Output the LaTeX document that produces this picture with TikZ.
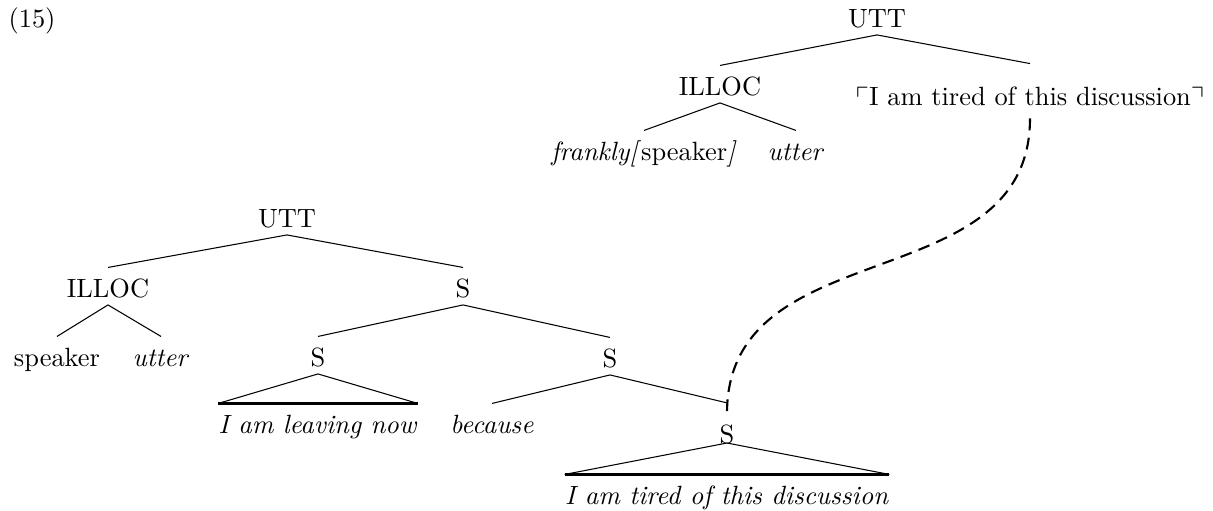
\documentclass[tikz,border=0pt]{standalone}
\usepackage{amssymb}
\usetikzlibrary{calc}
\tikzset{
  lbl/.style={anchor=base, inner sep=0pt, text height=11pt, text depth=2.8pt},
  edge/.style={line width=0.4pt},
  tribase/.style={line width=0.8pt},
  link/.style={line width=0.8pt, dash pattern=on 4.5pt off 2.8pt}
}
\begin{document}
\begin{tikzpicture}[x=0.3788pt,y=-0.3788pt]
\useasboundingbox (0,0) rectangle (1213,510);
% labels
\node[lbl] (n15) at (32,27) {(15)};
\node[lbl] (uttA) at (877,27) {UTT};
\node[lbl] (illocA) at (720,95) {ILLOC};
\node[lbl] (frank) at (644,160) {\textit{frankly[}speaker\textit{]}};
\node[lbl] (utterA) at (796,160) {\textit{utter}};
\node[lbl, text height=15.5pt, text depth=4.9pt] (quote) at (1030,105) {$\ulcorner$I am tired of this discussion$\urcorner$};
\node[lbl] (uttB) at (287,227) {UTT};
\node[lbl] (illocB) at (108,297) {ILLOC};
\node[lbl] (sR) at (463,297) {S};
\node[lbl] (spk) at (57,366) {speaker};
\node[lbl] (utterB) at (161,366) {\textit{utter}};
\node[lbl] (sL) at (318,366) {S};
\node[lbl] (sM) at (610,367) {S};
\node[lbl] (leave) at (318,433) {\textit{I am leaving now}};
\node[lbl] (because) at (492,433) {\textit{because}};
\node[lbl] (sB) at (727,443) {S};
\node[lbl] (tired) at (727,504) {\textit{I am tired of this discussion}};
% upper tree
\draw[edge] (illocA.north) -- (uttA.south) -- (quote.north);
\draw[edge] (frank.north) -- (illocA.south) -- (utterA.north);
% lower tree
\draw[edge] (illocB.north) -- (uttB.south) -- (sR.north);
\draw[edge] (spk.north) -- (illocB.south) -- (utterB.north);
\draw[edge] (sL.north) -- (sR.south) -- (sM.north);
\draw[edge] (because.north) -- (sM.south) -- ([yshift=4pt]sB.north);
% triangles
\draw[edge] (leave.north west) -- (sL.south) -- (leave.north east);
\draw[tribase] (leave.north west) -- (leave.north east);
\draw[edge] (tired.north west) -- (sB.base) -- (tired.north east);
\draw[tribase] (tired.north west) -- (tired.north east);
% dashed link
\draw[link] (quote.south) .. controls +(0,182) and +(0,-184) .. (sB.north);
\end{tikzpicture}
\end{document}
